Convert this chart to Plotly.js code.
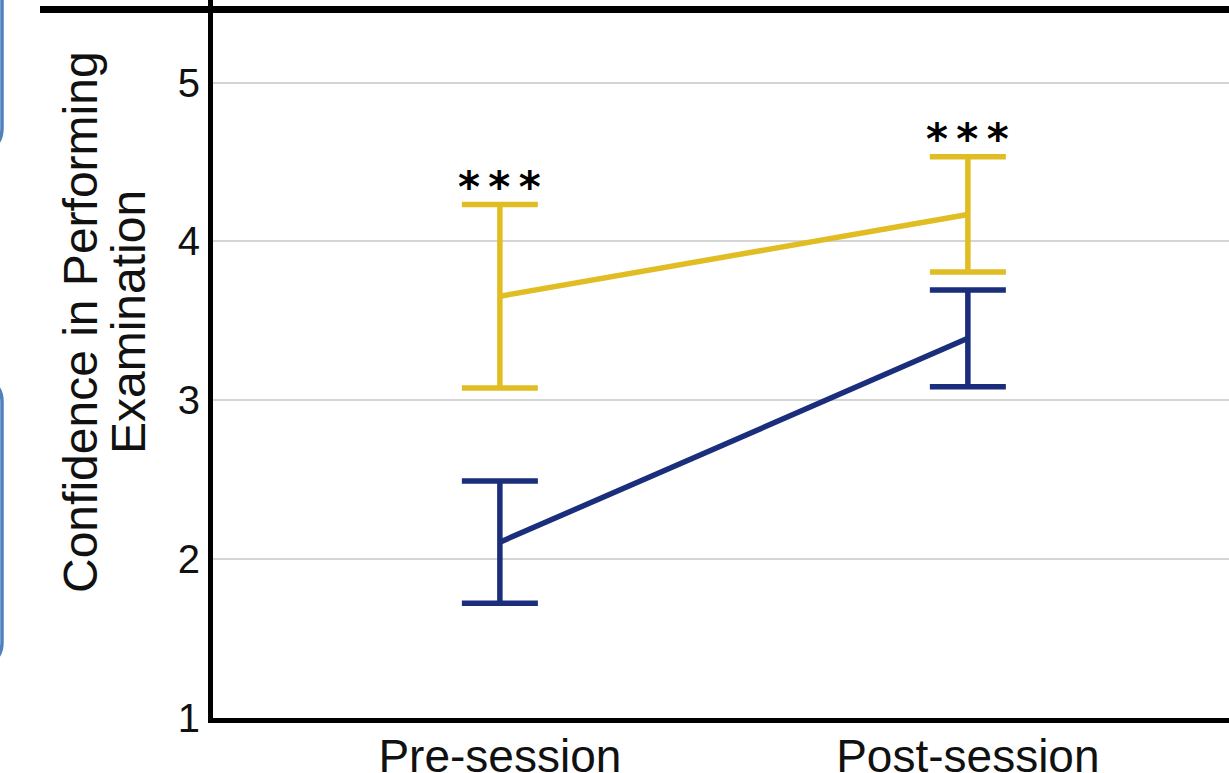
<!DOCTYPE html>
<html>
<head>
<meta charset="utf-8">
<script src="https://cdn.plot.ly/plotly-3.0.1.min.js"></script>
<style>html,body{margin:0;padding:0;background:#fff;}#chart{width:1229px;height:773px;}</style>
</head>
<body>
<div id="chart"></div>
<script>
// ---- data ----
var sessions = ["Pre-session", "Post-session"];
var groupAMeans = [3.655, 4.17];   // yellow series
var groupAErr   = [0.578, 0.3625];
var groupBMeans = [2.107, 3.39];   // navy series
var groupBErr   = [0.385, 0.304];
var sigLabels   = ["<b>*\u2009*\u2009*</b>", "<b>*\u2009*\u2009*</b>"];
var yTicks      = [1, 2, 3, 4, 5];
var yTitleLines = ["Confidence in Performing", "Examination"];

var yellow = "#E1BD24";
var navy = "#1A2E7B";
var fontFam = "Liberation Sans, Arial, Helvetica, sans-serif";

var traces = [
  {
    x: sessions, y: groupBMeans, type: "scatter", mode: "lines",
    line: {color: navy, width: 5.5},
    error_y: {type: "data", array: groupBErr, visible: true, color: navy, thickness: 5.5, width: 38},
    showlegend: false, hoverinfo: "skip"
  },
  {
    x: sessions, y: groupAMeans, type: "scatter", mode: "lines",
    line: {color: yellow, width: 5.5},
    error_y: {type: "data", array: groupAErr, visible: true, color: yellow, thickness: 5.5, width: 38},
    showlegend: false, hoverinfo: "skip"
  }
];

// paper helpers for positioning decorative pieces
var L = 213, W = 1016, H = 718;
function px(p) { return (p - L) / W; }
function py(q) { return (H - q) / H; }

var annotations = sessions.map(function (s, i) {
  return {
    x: s, y: groupAMeans[i] + groupAErr[i], xref: "x", yref: "y",
    text: sigLabels[i], showarrow: false,
    xanchor: "center", yanchor: "middle", yshift: 17,
    font: {family: "DejaVu Sans, sans-serif", size: 42, color: "#000"}
  };
});

// y-axis title, two tightly spaced rotated lines
var titleX = [80, 128];
yTitleLines.forEach(function (t, i) {
  annotations.push({
    xref: "paper", yref: "paper", x: px(titleX[i]), y: py(322),
    xanchor: "center", yanchor: "middle", textangle: -90,
    text: t, showarrow: false,
    font: {family: fontFam, size: 48, color: "#111"}
  });
});

var shapes = [
  // thick black top rule
  {type: "line", xref: "paper", yref: "paper", x0: px(40), x1: px(1235), y0: py(9.5), y1: py(9.5),
   line: {color: "#000", width: 7}, layer: "above"},
  // bottom axis rule
  {type: "line", xref: "paper", yref: "paper", x0: px(208), x1: px(1235), y0: py(720.5), y1: py(720.5),
   line: {color: "#000", width: 5}, layer: "above"},
  // blue box edges on the far left
  {type: "path", xref: "paper", yref: "paper",
   path: "M " + px(2) + "," + py(-5) + " L " + px(2) + "," + py(128) + " Q " + px(2) + "," + py(149) + " " + px(-19) + "," + py(149),
   line: {color: "#4F81BD", width: 3.5}},
  {type: "path", xref: "paper", yref: "paper",
   path: "M " + px(-19) + "," + py(381) + " Q " + px(2) + "," + py(381) + " " + px(2) + "," + py(402) +
         " L " + px(2) + "," + py(642) + " Q " + px(2) + "," + py(663) + " " + px(-19) + "," + py(663),
   line: {color: "#4F81BD", width: 3.5}}
];

var layout = {
  width: 1229, height: 773,
  margin: {l: L, r: 0, t: 0, b: 773 - H, pad: 0},
  paper_bgcolor: "#fff", plot_bgcolor: "#fff",
  font: {family: fontFam, color: "#111"},
  xaxis: {
    type: "category", range: [-0.613, 1.558],
    showgrid: false, zeroline: false, showline: false,
    ticks: "", ticklabelstandoff: 7,
    tickfont: {family: fontFam, size: 46, color: "#111"}
  },
  yaxis: {
    range: [1, 5.52], tickvals: yTicks, ticktext: yTicks.map(String),
    showgrid: true, gridcolor: "#D4D4D4", gridwidth: 2,
    zeroline: false, showline: true, linecolor: "#000", linewidth: 5,
    ticks: "", ticklabelstandoff: 0,
    tickfont: {family: fontFam, size: 40, color: "#111"}
  },
  annotations: annotations,
  shapes: shapes,
  showlegend: false
};

Plotly.newPlot("chart", traces, layout, {displayModeBar: false, staticPlot: true});
</script>
</body>
</html>
